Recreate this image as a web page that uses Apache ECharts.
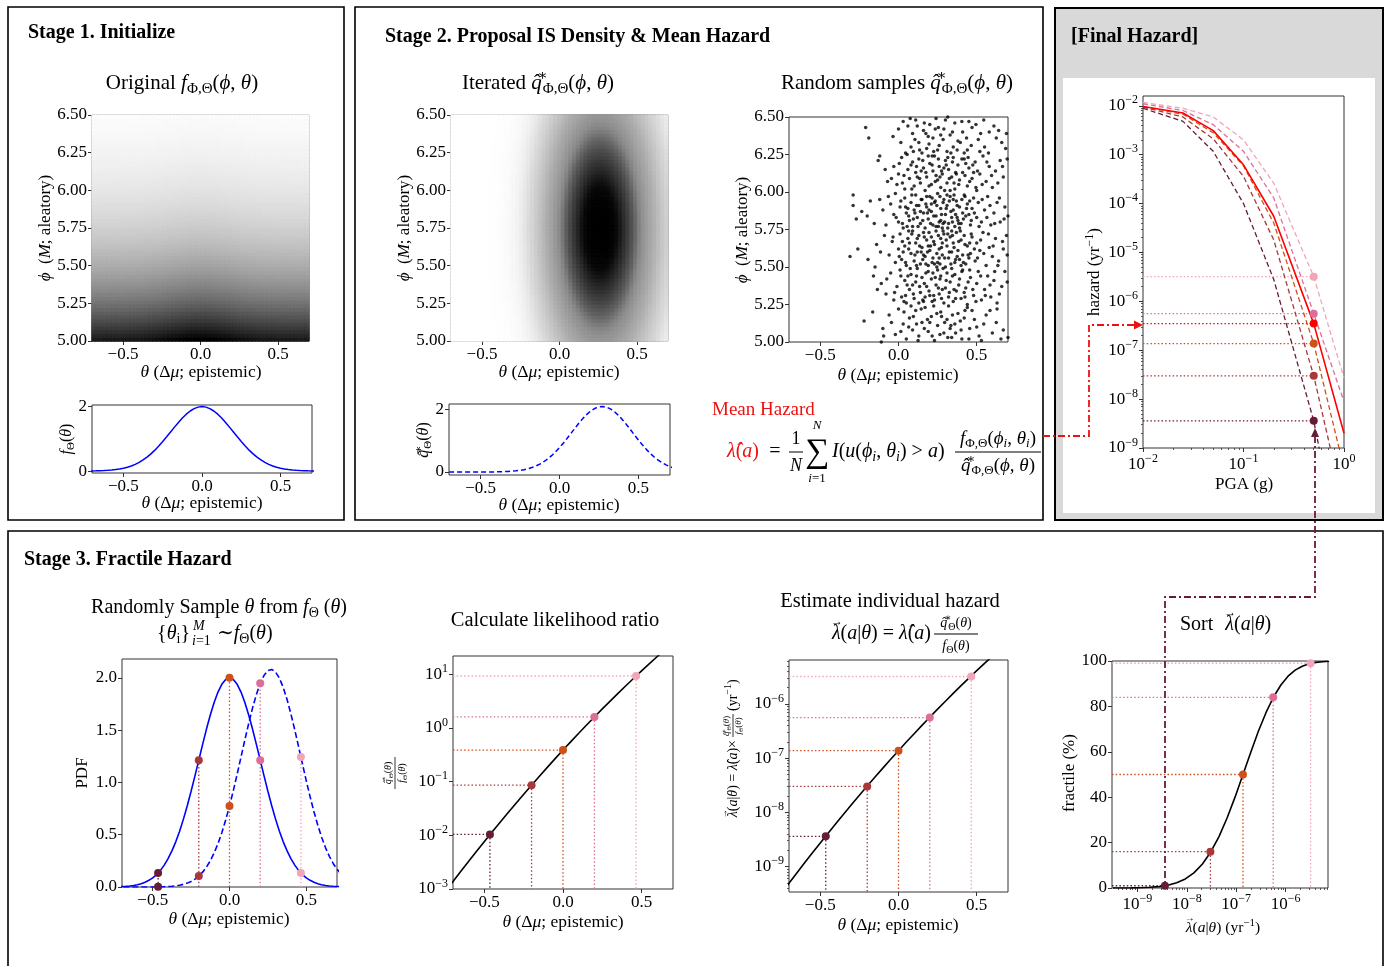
<!DOCTYPE html>
<html><head><meta charset="utf-8">
<script src="https://cdn.jsdelivr.net/npm/echarts@6/dist/echarts.min.js"></script>
<style>html,body{margin:0;padding:0;background:#fff}#c{width:1387px;height:966px}</style>
</head><body><div id="c"></div>
<script>
// ---------------- DATA ----------------
const thetaFine = [-0.75,-0.725,-0.7,-0.675,-0.65,-0.625,-0.6,-0.575,-0.55,-0.525,-0.5,-0.475,-0.45,-0.425,-0.4,-0.375,-0.35,-0.325,-0.3,-0.275,-0.25,-0.225,-0.2,-0.175,-0.15,-0.125,-0.1,-0.075,-0.05,-0.025,0,0.025,0.05,0.075,0.1,0.125,0.15,0.175,0.2,0.225,0.25,0.275,0.3,0.325,0.35,0.375,0.4,0.425,0.45,0.475,0.5,0.525,0.55,0.575,0.6,0.625,0.65,0.675,0.7,0.725,0.75];
const fTheta = [0.0018,0.0028,0.0044,0.0067,0.010,0.015,0.022,0.032,0.046,0.064,0.088,0.119,0.159,0.209,0.271,0.345,0.432,0.534,0.649,0.777,0.916,1.062,1.213,1.364,1.510,1.645,1.765,1.864,1.938,1.984,2.000,1.984,1.938,1.864,1.765,1.645,1.510,1.364,1.213,1.062,0.916,0.777,0.649,0.534,0.432,0.345,0.271,0.209,0.159,0.119,0.088,0.064,0.046,0.032,0.022,0.015,0.010,0.0067,0.0044,0.0028,0.0018];
const qTheta = [0.0000,0.0000,0.0000,0.0000,0.0000,0.0000,0.0001,0.0001,0.0002,0.0004,0.0007,0.0011,0.0019,0.0030,0.0047,0.0074,0.0114,0.0172,0.0255,0.0372,0.0533,0.0751,0.104,0.142,0.191,0.251,0.326,0.415,0.519,0.640,0.774,0.922,1.080,1.243,1.406,1.564,1.711,1.840,1.947,2.024,2.069,2.080,2.055,1.997,1.907,1.792,1.654,1.502,1.341,1.177,1.015,0.862,0.719,0.590,0.476,0.377,0.294,0.225,0.170,0.126,0.092];
const origThetaShade = [0.900,0.900,0.900,0.900,0.900,0.901,0.901,0.902,0.902,0.903,0.904,0.906,0.908,0.910,0.914,0.917,0.922,0.927,0.932,0.939,0.946,0.953,0.961,0.968,0.976,0.982,0.988,0.993,0.997,0.999,1.000,0.999,0.997,0.993,0.988,0.982,0.976,0.968,0.961,0.953,0.946,0.939,0.932,0.927,0.922,0.917,0.914,0.910,0.908,0.906,0.904,0.903,0.902,0.902,0.901,0.901,0.900,0.900,0.900,0.900,0.900];
const phiGrid = [5.000,5.025,5.050,5.075,5.100,5.125,5.150,5.175,5.200,5.225,5.250,5.275,5.300,5.325,5.350,5.375,5.400,5.425,5.450,5.475,5.500,5.525,5.550,5.575,5.600,5.625,5.650,5.675,5.700,5.725,5.750,5.775,5.800,5.825,5.850,5.875,5.900,5.925,5.950,5.975,6.000,6.025,6.050,6.075,6.100,6.125,6.150,6.175,6.200,6.225,6.250,6.275,6.300,6.325,6.350,6.375,6.400,6.425,6.450,6.475,6.500];
const origPhiProfile = [1.000,0.954,0.909,0.867,0.827,0.788,0.752,0.717,0.684,0.652,0.622,0.593,0.566,0.539,0.514,0.490,0.468,0.446,0.425,0.406,0.387,0.369,0.352,0.336,0.320,0.305,0.291,0.277,0.264,0.252,0.241,0.229,0.219,0.209,0.199,0.190,0.181,0.172,0.164,0.157,0.150,0.143,0.136,0.130,0.124,0.118,0.113,0.107,0.102,0.098,0.093,0.089,0.085,0.081,0.077,0.073,0.070,0.067,0.064,0.061,0.058];
const iterPhiProfile = [0.325,0.350,0.375,0.402,0.430,0.458,0.487,0.516,0.546,0.576,0.607,0.637,0.667,0.697,0.726,0.755,0.783,0.810,0.835,0.860,0.882,0.904,0.923,0.941,0.956,0.969,0.980,0.989,0.995,0.999,1.000,0.999,0.995,0.989,0.980,0.969,0.956,0.941,0.923,0.904,0.882,0.860,0.835,0.810,0.783,0.755,0.726,0.697,0.667,0.637,0.607,0.576,0.546,0.516,0.487,0.458,0.430,0.402,0.375,0.350,0.325];
// grey levels of the proposal-density image, at intensity 0, 0.05, ..., 1
const iterGreyLevels = [255,219,199,184,171,163,153,145,133,115,97,84,71,59,48,36,23,10,5,2,0];
const randomSamplesA = [
[0.03,6.47],[0.06,6.44],[0.09,6.39],[0.11,6.48],[0.13,6.33],[0.16,6.41],[0.18,6.29],[0.2,6.45],[0.22,6.36],[0.24,6.49],[0.26,6.31],[0.29,6.42],[0.31,6.27],[0.33,6.38],[0.36,6.46],[0.38,6.34],[0.41,6.4],[0.44,6.28],[0.47,6.43],[0.51,6.35],[0.55,6.3],[0.61,6.44],[0.64,6.41],[0.66,6.33],[0.69,6.39],[-0.21,6.43],[-0.19,6.36],[0.0,6.42],[0.15,6.26],[0.27,6.38],[0.35,6.3],[0.45,6.47],[0.52,6.27],[0.08,6.3],[0.19,6.37],[0.3,6.48],[0.42,6.26],[0.58,6.4],[0.12,6.44],[0.25,6.28],
[-0.13,6.21],[-0.12,6.24],[-0.07,6.07],[-0.03,6.17],[0.0,6.12],[0.02,6.23],[0.04,6.02],[0.06,6.15],[0.07,6.09],[0.09,6.2],[0.1,6.04],[0.11,6.13],[0.13,6.22],[0.14,6.06],[0.16,6.16],[0.17,6.01],[0.18,6.1],[0.2,6.19],[0.21,6.05],[0.22,6.14],[0.23,6.24],[0.25,6.08],[0.26,6.17],[0.27,6.03],[0.28,6.12],[0.3,6.21],[0.31,6.06],[0.32,6.15],[0.34,6.1],[0.35,6.23],[0.36,6.02],[0.38,6.18],[0.39,6.08],[0.41,6.13],[0.42,6.22],[0.44,6.04],[0.45,6.16],[0.47,6.09],[0.49,6.2],[0.5,6.01],[0.52,6.12],[0.54,6.24],[0.56,6.07],[0.58,6.17],[0.6,6.03],[0.62,6.14],[0.65,6.21],[0.67,6.1],[-0.01,6.05],[0.08,6.18],[0.24,6.11],[0.33,6.01],[0.43,6.19],[0.19,6.24],[0.12,6.1],[0.29,6.16],[0.37,6.12],[0.48,6.13],
[-0.29,5.98],[-0.29,5.91],[-0.27,5.82],[-0.2,5.84],[-0.18,5.94],[-0.12,5.95],[-0.1,5.88],[-0.08,5.78],[-0.05,5.92],[-0.03,5.85],[-0.02,5.99],[0.0,5.8],[0.01,5.9],[0.03,5.76],[0.04,5.96],[0.05,5.86],[0.07,5.81],[0.08,5.93],[0.09,5.77],[0.1,5.88],[0.11,5.98],[0.12,5.83],[0.13,5.91],[0.14,5.79],[0.15,5.95],[0.16,5.86],[0.17,5.76],[0.18,5.9],[0.19,5.82],[0.2,5.97],[0.21,5.87],[0.22,5.78],[0.23,5.93],[0.24,5.84],[0.25,5.99],[0.26,5.8],[0.27,5.89],[0.28,5.76],[0.29,5.95],[0.3,5.85],[0.31,5.91],[0.32,5.79],[0.33,5.97],[0.34,5.83],[0.35,5.88],[0.36,5.77],[0.37,5.94],[0.38,5.81],[0.39,5.9],[0.4,5.79],[0.41,5.86],[0.42,5.98],[0.43,5.84],[0.44,5.92],[0.46,5.78],[0.47,5.89],[0.48,5.96],[0.5,5.83],[0.51,5.93],[0.53,5.8],[0.55,5.88],[0.57,5.97],[0.59,5.78],[0.61,5.86],[0.63,5.93],[0.65,5.8],[0.68,5.9],[0.7,5.84],[0.06,5.89],[0.18,5.97],[0.24,5.77],[0.31,5.98],[0.39,5.76],[0.45,5.85],[0.14,5.87],[0.27,5.81],[0.35,5.95],[0.21,5.92],
[-0.31,5.57],[-0.26,5.62],[-0.14,5.65],[-0.15,5.5],[-0.09,5.71],[-0.06,5.58],[-0.04,5.67],[-0.02,5.53],[0.0,5.62],[0.01,5.72],[0.02,5.55],[0.04,5.64],[0.05,5.51],[0.06,5.69],[0.08,5.59],[0.09,5.74],[0.1,5.54],[0.11,5.66],[0.12,5.6],[0.13,5.71],[0.14,5.52],[0.15,5.63],[0.16,5.73],[0.17,5.57],[0.18,5.68],[0.19,5.51],[0.2,5.61],[0.21,5.7],[0.22,5.56],[0.23,5.65],[0.24,5.74],[0.25,5.53],[0.26,5.62],[0.27,5.69],[0.28,5.58],[0.29,5.72],[0.3,5.5],[0.31,5.64],[0.32,5.56],[0.33,5.7],[0.34,5.6],[0.35,5.66],[0.36,5.53],[0.37,5.73],[0.38,5.61],[0.39,5.55],[0.4,5.68],[0.41,5.58],[0.42,5.71],[0.43,5.52],[0.44,5.64],[0.46,5.59],[0.47,5.7],[0.49,5.54],[0.5,5.66],[0.52,5.61],[0.54,5.73],[0.56,5.51],[0.58,5.63],[0.6,5.57],[0.62,5.69],[0.64,5.54],[0.67,5.62],[0.69,5.71],[0.07,5.66],[0.16,5.58],[0.23,5.52],[0.28,5.66],[0.34,5.74],[0.45,5.56],[0.19,5.64],[0.03,5.6],[0.26,5.56],[0.12,5.69],[0.4,5.51],
[-0.16,5.44],[-0.11,5.39],[-0.08,5.32],[-0.05,5.46],[-0.03,5.28],[-0.01,5.37],[0.01,5.48],[0.02,5.3],[0.04,5.41],[0.05,5.26],[0.07,5.35],[0.08,5.45],[0.1,5.29],[0.11,5.4],[0.12,5.49],[0.14,5.33],[0.15,5.43],[0.16,5.27],[0.18,5.37],[0.19,5.47],[0.2,5.31],[0.21,5.42],[0.23,5.28],[0.24,5.38],[0.25,5.48],[0.26,5.32],[0.27,5.44],[0.29,5.26],[0.3,5.36],[0.31,5.46],[0.32,5.3],[0.33,5.4],[0.35,5.27],[0.36,5.45],[0.37,5.34],[0.39,5.42],[0.4,5.29],[0.41,5.48],[0.43,5.36],[0.44,5.25],[0.46,5.43],[0.48,5.31],[0.5,5.39],[0.51,5.47],[0.53,5.28],[0.55,5.35],[0.57,5.44],[0.59,5.3],[0.61,5.41],[0.63,5.26],[0.66,5.37],[0.68,5.47],[0.09,5.38],[0.17,5.3],[0.22,5.46],[0.28,5.35],[0.34,5.49],[0.42,5.33],[0.13,5.26],[0.06,5.44],
[-0.22,5.14],[-0.11,5.0],[-0.1,5.09],[-0.06,5.18],[-0.02,5.05],[0.0,5.22],[0.03,5.12],[0.05,5.02],[0.07,5.16],[0.09,5.08],[0.11,5.21],[0.13,5.04],[0.15,5.13],[0.17,5.23],[0.19,5.07],[0.21,5.17],[0.23,5.01],[0.25,5.11],[0.27,5.2],[0.29,5.06],[0.31,5.15],[0.32,5.24],[0.34,5.03],[0.36,5.12],[0.38,5.19],[0.4,5.08],[0.42,5.16],[0.45,5.02],[0.47,5.21],[0.5,5.1],[0.53,5.01],[0.56,5.18],[0.6,5.06],[0.63,5.22],[0.67,5.08],[0.7,5.03],[0.08,5.24],[0.2,5.13],[0.33,5.09],[0.44,5.23]
];
const randomSamplesB = [
[0.015,6.33],[0.045,6.26],[0.075,6.49],[0.105,6.35],[0.135,6.28],[0.165,6.46],[0.195,6.32],[0.225,6.27],[0.255,6.43],[0.285,6.35],[0.315,6.5],[0.345,6.4],[0.375,6.28],[0.405,6.47],[0.435,6.36],[0.465,6.31],[0.495,6.45],[0.525,6.39],[0.575,6.26],[0.625,6.36],[0.685,6.29],[-0.035,6.37],[0.175,6.39],[0.395,6.33],[0.235,6.42],[0.335,6.26],[0.095,6.27],[0.545,6.48],
[-0.085,6.15],[-0.045,6.09],[0.005,6.19],[0.035,6.11],[0.055,6.25],[0.085,6.02],[0.115,6.17],[0.135,6.09],[0.155,6.21],[0.175,6.13],[0.195,6.04],[0.215,6.18],[0.235,6.07],[0.255,6.22],[0.275,6.14],[0.295,6.01],[0.305,6.18],[0.325,6.09],[0.345,6.2],[0.365,6.13],[0.385,6.05],[0.405,6.22],[0.425,6.11],[0.455,6.07],[0.475,6.18],[0.505,6.14],[0.535,6.05],[0.565,6.2],[0.595,6.11],[0.635,6.06],[0.665,6.17],[0.695,6.22],[0.145,6.14],[0.265,6.1],[0.355,6.06],[0.445,6.23],[0.025,6.06],[0.215,6.24],[0.315,6.23],[0.495,6.03],
[-0.235,5.87],[-0.155,5.79],[-0.065,5.97],[-0.015,5.83],[0.015,5.94],[0.025,5.79],[0.045,5.9],[0.065,5.84],[0.085,5.98],[0.095,5.82],[0.115,5.91],[0.125,5.77],[0.145,5.95],[0.155,5.81],[0.175,5.92],[0.185,5.86],[0.205,5.79],[0.215,5.96],[0.225,5.84],[0.245,5.91],[0.255,5.77],[0.265,5.97],[0.275,5.85],[0.285,5.93],[0.295,5.8],[0.305,5.89],[0.315,5.76],[0.325,5.94],[0.335,5.87],[0.345,5.8],[0.355,5.98],[0.365,5.85],[0.375,5.91],[0.385,5.79],[0.405,5.95],[0.415,5.82],[0.435,5.89],[0.455,5.94],[0.465,5.81],[0.485,5.86],[0.515,5.77],[0.535,5.95],[0.565,5.83],[0.585,5.91],[0.615,5.79],[0.645,5.96],[0.675,5.82],[0.195,5.88],[0.285,5.79],[0.235,5.94],[0.375,5.83],[0.425,5.97],[0.105,5.86],[0.055,5.77],
[-0.195,5.55],[-0.115,5.6],[-0.035,5.7],[0.005,5.57],[0.025,5.67],[0.045,5.53],[0.065,5.62],[0.085,5.72],[0.105,5.58],[0.115,5.51],[0.135,5.64],[0.155,5.55],[0.165,5.7],[0.185,5.6],[0.195,5.73],[0.215,5.53],[0.225,5.67],[0.245,5.59],[0.255,5.71],[0.265,5.52],[0.275,5.63],[0.285,5.74],[0.295,5.56],[0.305,5.68],[0.325,5.6],[0.335,5.52],[0.345,5.71],[0.355,5.63],[0.375,5.57],[0.385,5.67],[0.395,5.74],[0.415,5.53],[0.425,5.65],[0.445,5.58],[0.465,5.72],[0.485,5.62],[0.505,5.56],[0.525,5.68],[0.545,5.59],[0.575,5.72],[0.605,5.64],[0.635,5.51],[0.665,5.67],[0.695,5.58],[0.205,5.64],[0.315,5.72],[0.145,5.6],[0.365,5.55],[0.245,5.5],[0.065,5.74],[0.455,5.66],[0.175,5.52],
[-0.135,5.35],[-0.075,5.42],[-0.025,5.33],[0.015,5.44],[0.035,5.27],[0.055,5.38],[0.075,5.49],[0.095,5.32],[0.115,5.44],[0.135,5.37],[0.155,5.28],[0.175,5.46],[0.195,5.34],[0.215,5.27],[0.235,5.43],[0.255,5.36],[0.275,5.29],[0.285,5.49],[0.305,5.41],[0.325,5.33],[0.345,5.44],[0.365,5.29],[0.385,5.38],[0.405,5.47],[0.425,5.3],[0.445,5.4],[0.475,5.35],[0.495,5.27],[0.525,5.44],[0.555,5.31],[0.585,5.38],[0.615,5.47],[0.645,5.32],[0.695,5.4],[0.165,5.39],[0.265,5.42],[0.355,5.35],[0.045,5.31],[0.455,5.48],[0.225,5.31],
[-0.165,5.2],[-0.095,5.04],[-0.045,5.13],[0.015,5.07],[0.035,5.2],[0.065,5.1],[0.095,5.17],[0.125,5.01],[0.145,5.22],[0.165,5.09],[0.185,5.15],[0.215,5.04],[0.245,5.19],[0.265,5.05],[0.295,5.13],[0.315,5.03],[0.345,5.18],[0.365,5.06],[0.395,5.14],[0.425,5.21],[0.455,5.09],[0.485,5.15],[0.515,5.04],[0.545,5.12],[0.585,5.21],[0.625,5.13],[0.655,5.02],[0.115,5.12],[0.225,5.24],[0.335,5.11],[0.405,5.02],[0.275,5.17]
];
// hazard curves
const pgaLevels = [0.01, 0.025, 0.05, 0.1, 0.2, 0.5, 1.0];
const hazardMean = [9.7e-3, 7.1e-3, 3.1e-3, 6.2e-4, 5.5e-5, 3.5e-7, 2.0e-9];
const hazardP99 = [1.17e-2, 8.9e-3, 5.9e-3, 2.0e-3, 2.6e-4, 3.2e-6, 2.7e-8];
const hazardP84 = [1.1e-2, 8.0e-3, 4.1e-3, 1.17e-3, 1.3e-4, 5.6e-7, 8.9e-9];
const hazardP50 = [9.7e-3, 6.7e-3, 2.8e-3, 5.9e-4, 4.0e-5, 1.37e-7, 3.8e-10];
const hazardP16 = [9.4e-3, 5.9e-3, 2.1e-3, 3.6e-4, 1.8e-5, 3.0e-8, 6e-11];
const hazardP01 = [8.9e-3, 4.8e-3, 1.17e-3, 1.0e-4, 2.8e-6, 3.6e-9, 2.7e-12];
const pgaTarget = 0.5;
const meanHazardAtTarget = 3.5e-7;
// samples of theta (fractile points)
const sampleTheta = [-0.465, -0.2, 0.0, 0.2, 0.465];
const sampleF = [0.134, 1.213, 2.0, 1.213, 0.134];
const sampleQ = [0.0014, 0.104, 0.774, 1.947, 1.243];
const sampleRatio = [0.0104, 0.0859, 0.387, 1.603, 9.28];
const sampleLambda = [3.6e-9, 3.0e-8, 1.37e-7, 5.6e-7, 3.2e-6];
const sampleFractile = [1, 16, 50, 84, 99];
const sampleColors = ['#661c35', '#a8383a', '#d0501b', '#dc6f98', '#f2a5b8'];
// likelihood ratio & individual hazard curves
const ratioTheta = [-0.75,-0.7,-0.65,-0.6,-0.55,-0.5,-0.45,-0.4,-0.35,-0.3,-0.25,-0.2,-0.15,-0.1,-0.05,0,0.05,0.1,0.15,0.2,0.25,0.3,0.35,0.4,0.45,0.5,0.55,0.6,0.65,0.7,0.75];
const ratioVals = [8.87e-4,1.38e-3,2.14e-3,3.29e-3,5.04e-3,7.67e-3,0.01164,0.01754,0.0263,0.0393,0.0582,0.0859,0.1262,0.1841,0.268,0.387,0.557,0.796,1.132,1.603,2.26,3.16,4.40,6.11,8.43,11.56,15.78,21.4,28.9,38.8,52.0];
const indivHazard = [3.15e-10,4.9e-10,7.59e-10,1.17e-9,1.79e-9,2.72e-9,4.13e-9,6.22e-9,9.33e-9,1.39e-8,2.07e-8,3.05e-8,4.48e-8,6.53e-8,9.5e-8,1.37e-7,1.98e-7,2.82e-7,4.02e-7,5.69e-7,8.02e-7,1.12e-6,1.56e-6,2.17e-6,2.99e-6,4.10e-6,5.60e-6,7.60e-6,1.03e-5,1.4e-5,1.9e-5];
// fractile CDF
const cdfLambda = [3.2e-10,4.9e-10,7.6e-10,1.17e-9,1.79e-9,2.72e-9,4.13e-9,6.22e-9,9.33e-9,1.39e-8,2.07e-8,3.05e-8,4.48e-8,6.53e-8,9.5e-8,1.37e-7,1.98e-7,2.82e-7,4.02e-7,5.69e-7,8.02e-7,1.12e-6,1.56e-6,2.17e-6,2.99e-6,4.10e-6,5.60e-6,7.60e-6];
const cdfFractile = [0.009,0.023,0.058,0.135,0.298,0.621,1.222,2.275,4.006,6.681,10.56,15.87,22.66,30.85,40.13,50,59.87,69.15,77.34,84.13,89.44,93.32,95.99,97.72,98.78,99.38,99.70,99.87];

// ---------------- HELPERS ----------------
const SERIF = '"Liberation Serif","Times New Roman","DejaVu Serif",serif';
const L10 = Math.log10;
const grids = [], xAxes = [], yAxes = [], series = [], graphics = [];
function richSet(fs, color) {
  color = color || '#000';
  const s = Math.round(fs * 0.7);
  const b = {fontFamily: SERIF, fill: color, color: color};
  return {
    n: Object.assign({}, b, {fontSize: fs}),
    i: Object.assign({}, b, {fontSize: fs, fontStyle: 'italic'}),
    sub: Object.assign({}, b, {fontSize: s, padding: [Math.round(fs * 0.55), 0, 0, 0]}),
    isub: Object.assign({}, b, {fontSize: s, fontStyle: 'italic', padding: [Math.round(fs * 0.55), 0, 0, 0]}),
    sup: Object.assign({}, b, {fontSize: s, padding: [0, 0, Math.round(fs * 0.65), 0]}),
    sup0: Object.assign({}, b, {fontSize: s, padding: [0, 0, Math.round(fs * 0.65), 0], width: 1, align: 'left'}),
    va: Object.assign({}, b, {fontSize: Math.round(fs * 0.62), padding: [0, 0, Math.round(fs * 1.2), Math.max(1, Math.round(fs * 0.3))], width: 1, align: 'left'}),
    r: {fontFamily: SERIF, fontSize: fs, fontStyle: 'italic', fill: '#ee1111', color: '#ee1111'},
    rn: {fontFamily: SERIF, fontSize: fs, fill: '#ee1111', color: '#ee1111'}
  };
}
function txt(x, y, text, fs, o) {
  o = o || {};
  const col = o.color || '#000';
  return {type: 'text', x: x, y: y, z: 50, rotation: o.rot || 0, silent: true,
    style: {text: text, fontFamily: SERIF, fontSize: fs, fontWeight: o.bold ? 'bold' : 'normal', fill: col,
      align: o.align || 'center', verticalAlign: 'middle', textAlign: o.align || 'center', textVerticalAlign: 'middle',
      rich: richSet(fs, col)}};
}
function hline(x1, y1, x2, y2, color, w) {
  return {type: 'line', z: 40, silent: true, shape: {x1: x1, y1: y1, x2: x2, y2: y2}, style: {stroke: color || '#000', lineWidth: w || 1}};
}
const tickRich = {b: {fontFamily: SERIF, fontSize: 17, color: '#000'}, s: {fontFamily: SERIF, fontSize: 12, color: '#000', padding: [0, 0, 11, 0]}};
function pow10Fmt(v) { const e = Math.round(v); return '{b|10}{s|' + (e < 0 ? '\u2212' + (-e) : e) + '}'; }
function numFmt(d) { return function (v) { const s = v.toFixed(d); return v < 0 ? '\u2212' + s.slice(1) : s; }; }
function addGrid(l, t, w, h, show) {
  grids.push({left: l, top: t, width: w, height: h, show: show !== false, borderColor: '#333', borderWidth: 1, backgroundColor: 'transparent', containLabel: false});
  return grids.length - 1;
}
function vAxis(dim, g, min, max, ticks, fmt, fs) {
  const a = {type: 'value', gridIndex: g, min: min, max: max, position: dim === 'x' ? 'bottom' : 'left',
    splitLine: {show: false}, axisLine: {show: false, onZero: false},
    axisTick: {show: true, customValues: ticks, length: 4, lineStyle: {color: '#333', width: 1}},
    axisLabel: {show: true, customValues: ticks, formatter: fmt, fontFamily: SERIF, fontSize: fs || 17, color: '#000', margin: 5, rich: tickRich}};
  const arr = dim === 'x' ? xAxes : yAxes; arr.push(a); return arr.length - 1;
}
function minorAxis(dim, g, min, max) {
  const ticks = [];
  for (let n = -13; n <= 1; n++) for (let k = 2; k <= 9; k++) { const v = n + L10(k); if (v > min && v < max) ticks.push(v); }
  const a = {type: 'value', gridIndex: g, min: min, max: max, position: dim === 'x' ? 'bottom' : 'left',
    splitLine: {show: false}, axisLine: {show: false, onZero: false}, axisLabel: {show: false},
    axisTick: {show: true, customValues: ticks, length: 2, lineStyle: {color: '#333', width: 0.8}}};
  const arr = dim === 'x' ? xAxes : yAxes; arr.push(a); return arr.length - 1;
}
function addLine(xi, yi, data, color, width, type, z) {
  series.push({type: 'line', xAxisIndex: xi, yAxisIndex: yi, data: data, showSymbol: false, symbol: 'none', silent: true, clip: true,
    lineStyle: {color: color, width: width, type: type || 'solid'}, z: z || 2});
}
function addDots(xi, yi, data, colors, size) {
  series.push({type: 'scatter', xAxisIndex: xi, yAxisIndex: yi, silent: true, clip: false, symbolSize: size || 8, z: 6,
    data: data.map(function (d, k) { return {value: d, itemStyle: {color: colors[k], opacity: 1}}; })});
}
function greyCss(g) { g = Math.max(0, Math.min(255, Math.round(g))); return 'rgb(' + g + ',' + g + ',' + g + ')'; }
function greyLinear(v) { const t = Math.max(0, Math.min(1, (v - 0.04) / 0.96)); return greyCss(255 * (1 - t)); }
function greyStops(v) {
  const p = Math.max(0, Math.min(1, v)) * (iterGreyLevels.length - 1);
  const k = Math.min(iterGreyLevels.length - 2, Math.floor(p));
  return greyCss(iterGreyLevels[k] + (iterGreyLevels[k + 1] - iterGreyLevels[k]) * (p - k));
}
function cell(i, j, v, colorFn) {
  const c = colorFn(v);
  return {value: [i, j, v], itemStyle: {color: c, borderColor: c, borderWidth: 0.7}};
}
const DOT = [1.5, 2.2];
const thetaHeat = thetaFine.slice(2, 59);
const thetaTicks = [-0.5, 0, 0.5];

// ---------------- HEATMAPS ----------------
const g0 = addGrid(92, 115, 217, 226, false);
xAxes.push({type: 'category', gridIndex: g0, data: thetaHeat, show: false}); const hx0 = xAxes.length - 1;
yAxes.push({type: 'category', gridIndex: g0, data: phiGrid, show: false}); const hy0 = yAxes.length - 1;
const origData = [];
thetaHeat.forEach(function (t, i) { phiGrid.forEach(function (p, j) { origData.push(cell(i, j, origPhiProfile[j] * origThetaShade[i + 2], greyLinear)); }); });
series.push({type: 'heatmap', xAxisIndex: hx0, yAxisIndex: hy0, data: origData, progressive: 0, silent: true});
const g3 = addGrid(451, 115, 217, 226, false);
xAxes.push({type: 'category', gridIndex: g3, data: thetaHeat, show: false}); const hx3 = xAxes.length - 1;
yAxes.push({type: 'category', gridIndex: g3, data: phiGrid, show: false}); const hy3 = yAxes.length - 1;
const qMax = Math.max.apply(null, qTheta);
const iterData = [];
thetaHeat.forEach(function (t, i) { phiGrid.forEach(function (p, j) { iterData.push(cell(i, j, qTheta[i + 2] / qMax * iterPhiProfile[j], greyStops)); }); });
series.push({type: 'heatmap', xAxisIndex: hx3, yAxisIndex: hy3, data: iterData, progressive: 0, silent: true});

const phiTicks = [5.0, 5.25, 5.5, 5.75, 6.0, 6.25, 6.5];
const g1 = addGrid(92, 115, 217, 226);
vAxis('x', g1, -0.7, 0.7, thetaTicks, numFmt(1));
vAxis('y', g1, 5.0, 6.5, phiTicks, numFmt(2));
const g4 = addGrid(451, 115, 217, 226);
vAxis('x', g4, -0.7, 0.7, thetaTicks, numFmt(1));
vAxis('y', g4, 5.0, 6.5, phiTicks, numFmt(2));

// Stage 1 small f plot
const g2 = addGrid(92, 405, 220, 68);
const x2 = vAxis('x', g2, -0.7, 0.7, thetaTicks, numFmt(1));
const y2 = vAxis('y', g2, -0.06, 2.05, [0, 2], function (v) { return String(v); });
addLine(x2, y2, thetaFine.map(function (t, k) { return [t, fTheta[k]]; }), '#0000ff', 1.5);

// Stage 2 scatter
const g5 = addGrid(789, 117, 219, 225);
const x5 = vAxis('x', g5, -0.7, 0.7, thetaTicks, numFmt(1));
const y5 = vAxis('y', g5, 5.0, 6.5, phiTicks, numFmt(2));
series.push({type: 'scatter', xAxisIndex: x5, yAxisIndex: y5, data: randomSamplesA.concat(randomSamplesB), symbolSize: 3.5, silent: true, clip: true, itemStyle: {color: '#000'}});

// Stage 2 small q plot
const g6 = addGrid(449, 404, 221, 71);
const x6 = vAxis('x', g6, -0.7, 0.7, thetaTicks, numFmt(1));
const y6 = vAxis('y', g6, -0.095, 2.16, [0, 2], function (v) { return String(v); });
addLine(x6, y6, thetaFine.map(function (t, k) { return [t, qTheta[k]]; }), '#0000ff', 1.5, [5, 3]);

// Final hazard plot
const g7 = addGrid(1143, 96, 201, 352);
const x7 = vAxis('x', g7, -2, 0, [-2, -1, 0], pow10Fmt);
const y7 = vAxis('y', g7, -9, -1.8, [-9, -8, -7, -6, -5, -4, -3, -2], pow10Fmt);
minorAxis('x', g7, -2, 0);
minorAxis('y', g7, -9, -1.8);
function hz(arr) { return pgaLevels.map(function (p, k) { return [L10(p), L10(arr[k])]; }); }
const hazSets = [hazardP99, hazardP84, hazardP50, hazardP16, hazardP01];
const hazColors = [sampleColors[4], sampleColors[3], sampleColors[2], sampleColors[1], sampleColors[0]];
const hazLevelsAtTarget = [sampleLambda[4], sampleLambda[3], sampleLambda[2], sampleLambda[1], sampleLambda[0]];
hazSets.forEach(function (h, k) { addLine(x7, y7, hz(h), hazColors[k], 1.3, [5, 3]); });
addLine(x7, y7, hz(hazardMean), '#ff0000', 1.6);
hazLevelsAtTarget.forEach(function (v, k) { addLine(x7, y7, [[-2, L10(v)], [L10(pgaTarget), L10(v)]], hazColors[k], 1.3, DOT, 1); });
addLine(x7, y7, [[-2, L10(meanHazardAtTarget)], [L10(pgaTarget), L10(meanHazardAtTarget)]], '#ff0000', 1.3, DOT, 1);
addDots(x7, y7, hazLevelsAtTarget.map(function (v) { return [L10(pgaTarget), L10(v)]; }).concat([[L10(pgaTarget), L10(meanHazardAtTarget)]]), hazColors.concat(['#ff0000']), 8);

// Stage 3 panel 1: PDF
const g8 = addGrid(122, 659, 215, 228);
const x8 = vAxis('x', g8, -0.7, 0.7, thetaTicks, numFmt(1));
const y8 = vAxis('y', g8, 0, 2.18, [0, 0.5, 1.0, 1.5, 2.0], numFmt(1));
sampleTheta.forEach(function (t, k) { addLine(x8, y8, [[t, 0], [t, Math.max(sampleF[k], sampleQ[k])]], sampleColors[k], 1.3, DOT, 1); });
addLine(x8, y8, thetaFine.map(function (t, k) { return [t, fTheta[k]]; }), '#0000ff', 1.6);
addLine(x8, y8, thetaFine.map(function (t, k) { return [t, qTheta[k]]; }), '#0000ff', 1.6, [6, 3]);
addDots(x8, y8, sampleTheta.map(function (t, k) { return [t, sampleF[k]]; }), sampleColors, 8);
addDots(x8, y8, sampleTheta.map(function (t, k) { return [t, sampleQ[k]]; }), sampleColors, 8);

// Stage 3 panel 2: likelihood ratio
const g9 = addGrid(453, 656, 220, 233);
const x9 = vAxis('x', g9, -0.7, 0.7, thetaTicks, numFmt(1));
const y9 = vAxis('y', g9, -3, 1.34, [-3, -2, -1, 0, 1], pow10Fmt);
sampleTheta.forEach(function (t, k) {
  addLine(x9, y9, [[-0.7, L10(sampleRatio[k])], [t, L10(sampleRatio[k])]], sampleColors[k], 1.3, DOT, 1);
  addLine(x9, y9, [[t, L10(sampleRatio[k])], [t, -3]], sampleColors[k], 1.3, DOT, 1);
});
addLine(x9, y9, ratioTheta.map(function (t, k) { return [t, L10(ratioVals[k])]; }), '#000', 1.6);
addDots(x9, y9, sampleTheta.map(function (t, k) { return [t, L10(sampleRatio[k])]; }), sampleColors, 8);

// Stage 3 panel 3: individual hazard
const g10 = addGrid(789, 660, 219, 232);
const x10 = vAxis('x', g10, -0.7, 0.7, thetaTicks, numFmt(1));
const y10 = vAxis('y', g10, -9.47, -5.19, [-9, -8, -7, -6], pow10Fmt);
minorAxis('y', g10, -9.47, -5.19);
sampleTheta.forEach(function (t, k) {
  addLine(x10, y10, [[-0.7, L10(sampleLambda[k])], [t, L10(sampleLambda[k])]], sampleColors[k], 1.3, DOT, 1);
  addLine(x10, y10, [[t, L10(sampleLambda[k])], [t, -9.47]], sampleColors[k], 1.3, DOT, 1);
});
addLine(x10, y10, ratioTheta.map(function (t, k) { return [t, L10(indivHazard[k])]; }), '#000', 1.6);
addDots(x10, y10, sampleTheta.map(function (t, k) { return [t, L10(sampleLambda[k])]; }), sampleColors, 8);

// Stage 3 panel 4: fractile
const g11 = addGrid(1112, 661, 216, 227);
const x11 = vAxis('x', g11, -9.515, -5.142, [-9, -8, -7, -6], pow10Fmt);
const y11 = vAxis('y', g11, 0, 100, [0, 20, 40, 60, 80, 100], function (v) { return String(v); });
minorAxis('x', g11, -9.515, -5.142);
sampleLambda.forEach(function (v, k) {
  addLine(x11, y11, [[-9.515, sampleFractile[k]], [L10(v), sampleFractile[k]]], sampleColors[k], 1.3, DOT, 1);
  addLine(x11, y11, [[L10(v), sampleFractile[k]], [L10(v), 0]], sampleColors[k], 1.3, DOT, 1);
});
addLine(x11, y11, cdfLambda.map(function (v, k) { return [L10(v), cdfFractile[k]]; }), '#000', 1.6);
addDots(x11, y11, sampleLambda.map(function (v, k) { return [L10(v), sampleFractile[k]]; }), sampleColors, 8);

// ---------------- GRAPHICS ----------------
function box(x, y, w, h, fill, lw, z) {
  return {type: 'rect', z: z, silent: true, shape: {x: x, y: y, width: w, height: h}, style: {fill: fill || 'none', stroke: lw ? '#000' : 'none', lineWidth: lw || 0}};
}
graphics.push(box(1055, 8, 328, 512, '#d9d9d9', 2, -20));
graphics.push(box(1063, 78, 312, 435, '#ffffff', 0, -19));
graphics.push(box(8, 7, 336, 513, null, 1.6, 45));
graphics.push(box(355, 7, 688, 513, null, 1.6, 45));
graphics.push(box(8, 531, 1375, 445, null, 1.6, 45));

graphics.push(txt(28, 33, 'Stage 1. Initialize', 20, {bold: true, align: 'left'}));
graphics.push(txt(385, 37, 'Stage 2. Proposal IS Density & Mean Hazard', 20, {bold: true, align: 'left'}));
graphics.push(txt(1071, 37, '[Final Hazard]', 20, {bold: true, align: 'left'}));
graphics.push(txt(24, 560, 'Stage 3. Fractile Hazard', 20, {bold: true, align: 'left'}));

const thetaLabel = '{i|\u03B8}{n| (\u0394}{i|\u03BC}{n|; epistemic)}';
const phiLabel = '{i|\u03D5}{n|  (}{i|M}{n|; aleatory)}';
const qStarPT = '{i|q\u0302}{sup0|\u2217}{sub|\u03A6,\u0398}{n|(}{i|\u03D5}{n|, }{i|\u03B8}{n|)}';
const qStarT = '{i|q\u0302}{sup0|\u2217}{sub|\u0398}{n|(}{i|\u03B8}{n|)}';
const fT = '{i|f}{sub|\u0398}{n|(}{i|\u03B8}{n|)}';
const lamVec = '{va|\u2192}{i|\u03BB}{n|(}{i|a}{n||}{i|\u03B8}{n|)}';
graphics.push(txt(182, 83, '{n|Original }{i|f}{sub|\u03A6,\u0398}{n|(}{i|\u03D5}{n|, }{i|\u03B8}{n|)}', 21));
graphics.push(txt(46, 228, phiLabel, 17, {rot: Math.PI / 2}));
graphics.push(txt(201, 372, thetaLabel, 17.5));
graphics.push(txt(67, 439, fT, 16, {rot: Math.PI / 2}));
graphics.push(txt(202, 503, thetaLabel, 17.5));
graphics.push(txt(538, 83, '{n|Iterated }' + qStarPT, 21));
graphics.push(txt(405, 228, phiLabel, 17, {rot: Math.PI / 2}));
graphics.push(txt(559, 372, thetaLabel, 17.5));
graphics.push(txt(897, 83, '{n|Random samples }' + qStarPT, 21));
graphics.push(txt(743, 230, phiLabel, 17, {rot: Math.PI / 2}));
graphics.push(txt(898, 375, thetaLabel, 17.5));
graphics.push(txt(424, 440, qStarT, 16, {rot: Math.PI / 2}));
graphics.push(txt(559, 505, thetaLabel, 17.5));
// Mean hazard formula
graphics.push(txt(712, 410, 'Mean Hazard', 19, {align: 'left', color: '#ee1111'}));
graphics.push(txt(727, 452, '{r|\u03BB\u0302}{rn|(}{r|a}{rn|)}', 20, {align: 'left'}));
graphics.push(txt(775, 452, '{n|=}', 20));
graphics.push(txt(796, 439, '{n|1}', 18));
graphics.push(hline(789, 452, 803, 452, '#000', 1));
graphics.push(txt(796, 466, '{i|N}', 18));
graphics.push(txt(817, 453, '{n|\u2211}', 34));
graphics.push(txt(817, 426, '{i|N}', 13));
graphics.push(txt(817, 479, '{i|i}{n|=1}', 13));
graphics.push(txt(832, 452, '{i|I}{n|(}{i|u}{n|(}{i|\u03D5}{isub|i}{n|, }{i|\u03B8}{isub|i}{n|) > }{i|a}{n|)}', 20, {align: 'left'}));
graphics.push(txt(998, 439, '{i|f}{sub|\u03A6,\u0398}{n|(}{i|\u03D5}{isub|i}{n|, }{i|\u03B8}{isub|i}{n|)}', 19));
graphics.push(hline(955, 452, 1041, 452, '#000', 1));
graphics.push(txt(998, 466, qStarPT, 19));
graphics.push(txt(1095, 272, '{n|hazard (yr}{sup|\u22121}{n|)}', 17, {rot: Math.PI / 2}));
graphics.push(txt(1244, 485, 'PGA (g)', 17));
// connectors
graphics.push({type: 'polyline', z: 48, silent: true, shape: {points: [[1043, 436], [1089, 436], [1089, 325], [1136, 325]]},
  style: {stroke: '#ee1111', lineWidth: 1.8, fill: 'none', lineDash: [7, 3, 2, 3]}});
graphics.push({type: 'polygon', z: 48, silent: true, shape: {points: [[1143, 325], [1134, 320.5], [1134, 329.5]]}, style: {fill: '#ee1111'}});
graphics.push({type: 'polyline', z: 48, silent: true, shape: {points: [[1315, 436], [1315, 597], [1165, 597], [1165, 884]]},
  style: {stroke: '#661c35', lineWidth: 1.8, fill: 'none', lineDash: [7, 3, 2, 3]}});
graphics.push({type: 'polygon', z: 48, silent: true, shape: {points: [[1315, 428], [1311, 437], [1319, 437]]}, style: {fill: '#661c35'}});
// Stage 3 titles and labels
graphics.push(txt(219, 608, '{n|Randomly Sample }{i|\u03B8}{n| from }{i|f}{sub|\u0398}{n| (}{i|\u03B8}{n|)}', 20));
graphics.push(txt(190, 634, '{n|{}{i|\u03B8}{sub|i}{n|\u007D}', 20, {align: 'right'}));
graphics.push(txt(193, 626, '{i|M}', 14, {align: 'left'}));
graphics.push(txt(192, 641, '{i|i}{n|=1}', 14, {align: 'left'}));
graphics.push(txt(217, 634, '{n|\u223C}' + '{i|f}{sub|\u0398}{n|(}{i|\u03B8}{n|)}', 20, {align: 'left'}));
graphics.push(txt(83, 773, 'PDF', 17, {rot: Math.PI / 2}));
graphics.push(txt(229, 919, thetaLabel, 17.5));

graphics.push(txt(555, 621, 'Calculate likelihood ratio', 20.5));
graphics.push({type: 'group', x: 395, y: 773, rotation: Math.PI / 2, z: 50, silent: true, children: [
  txt(0, -7, qStarT, 10), hline(-16, 0, 16, 0, '#000', 0.8), txt(0, 7, fT, 10)]});
graphics.push(txt(563, 922, thetaLabel, 17.5));

graphics.push(txt(890, 602, 'Estimate individual hazard', 20.5));
graphics.push(txt(931, 634, lamVec + '{n| = }{i|\u03BB\u0302}{n|(}{i|a}{n|)}', 20, {align: 'right'}));
graphics.push(txt(956, 623, qStarT, 14));
graphics.push(hline(934, 634, 978, 634, '#000', 1));
graphics.push(txt(956, 646, fT, 14));
graphics.push({type: 'group', x: 733, y: 790, rotation: Math.PI / 2, z: 50, silent: true, children: [
  txt(50, 0, lamVec + '{n| = }{i|\u03BB\u0302}{n|(}{i|a}{n|)\u00D7}', 14, {align: 'right'}),
  txt(64, -6, qStarT, 9), hline(53, 0, 76, 0, '#000', 0.8), txt(64, 6, fT, 9),
  txt(79, 0, '{n|(yr}{sup|\u22121}{n|)}', 14, {align: 'left'})]});
graphics.push(txt(898, 925, thetaLabel, 17.5));

graphics.push(txt(1180, 625, '{n|Sort }' + lamVec, 20, {align: 'left'}));
graphics.push(txt(1070, 773, 'fractile (%)', 17, {rot: Math.PI / 2}));
graphics.push(txt(1220, 928, lamVec + '{n| (yr}{sup|\u22121}{n|)}', 15.5));

// ---------------- CHART ----------------
const chart = echarts.init(document.getElementById('c'), null, {renderer: 'canvas'});
chart.setOption({
  animation: false,
  backgroundColor: '#ffffff',
  grid: grids, xAxis: xAxes, yAxis: yAxes,
  series: series,
  graphic: {elements: graphics}
});
</script>
</body></html>
